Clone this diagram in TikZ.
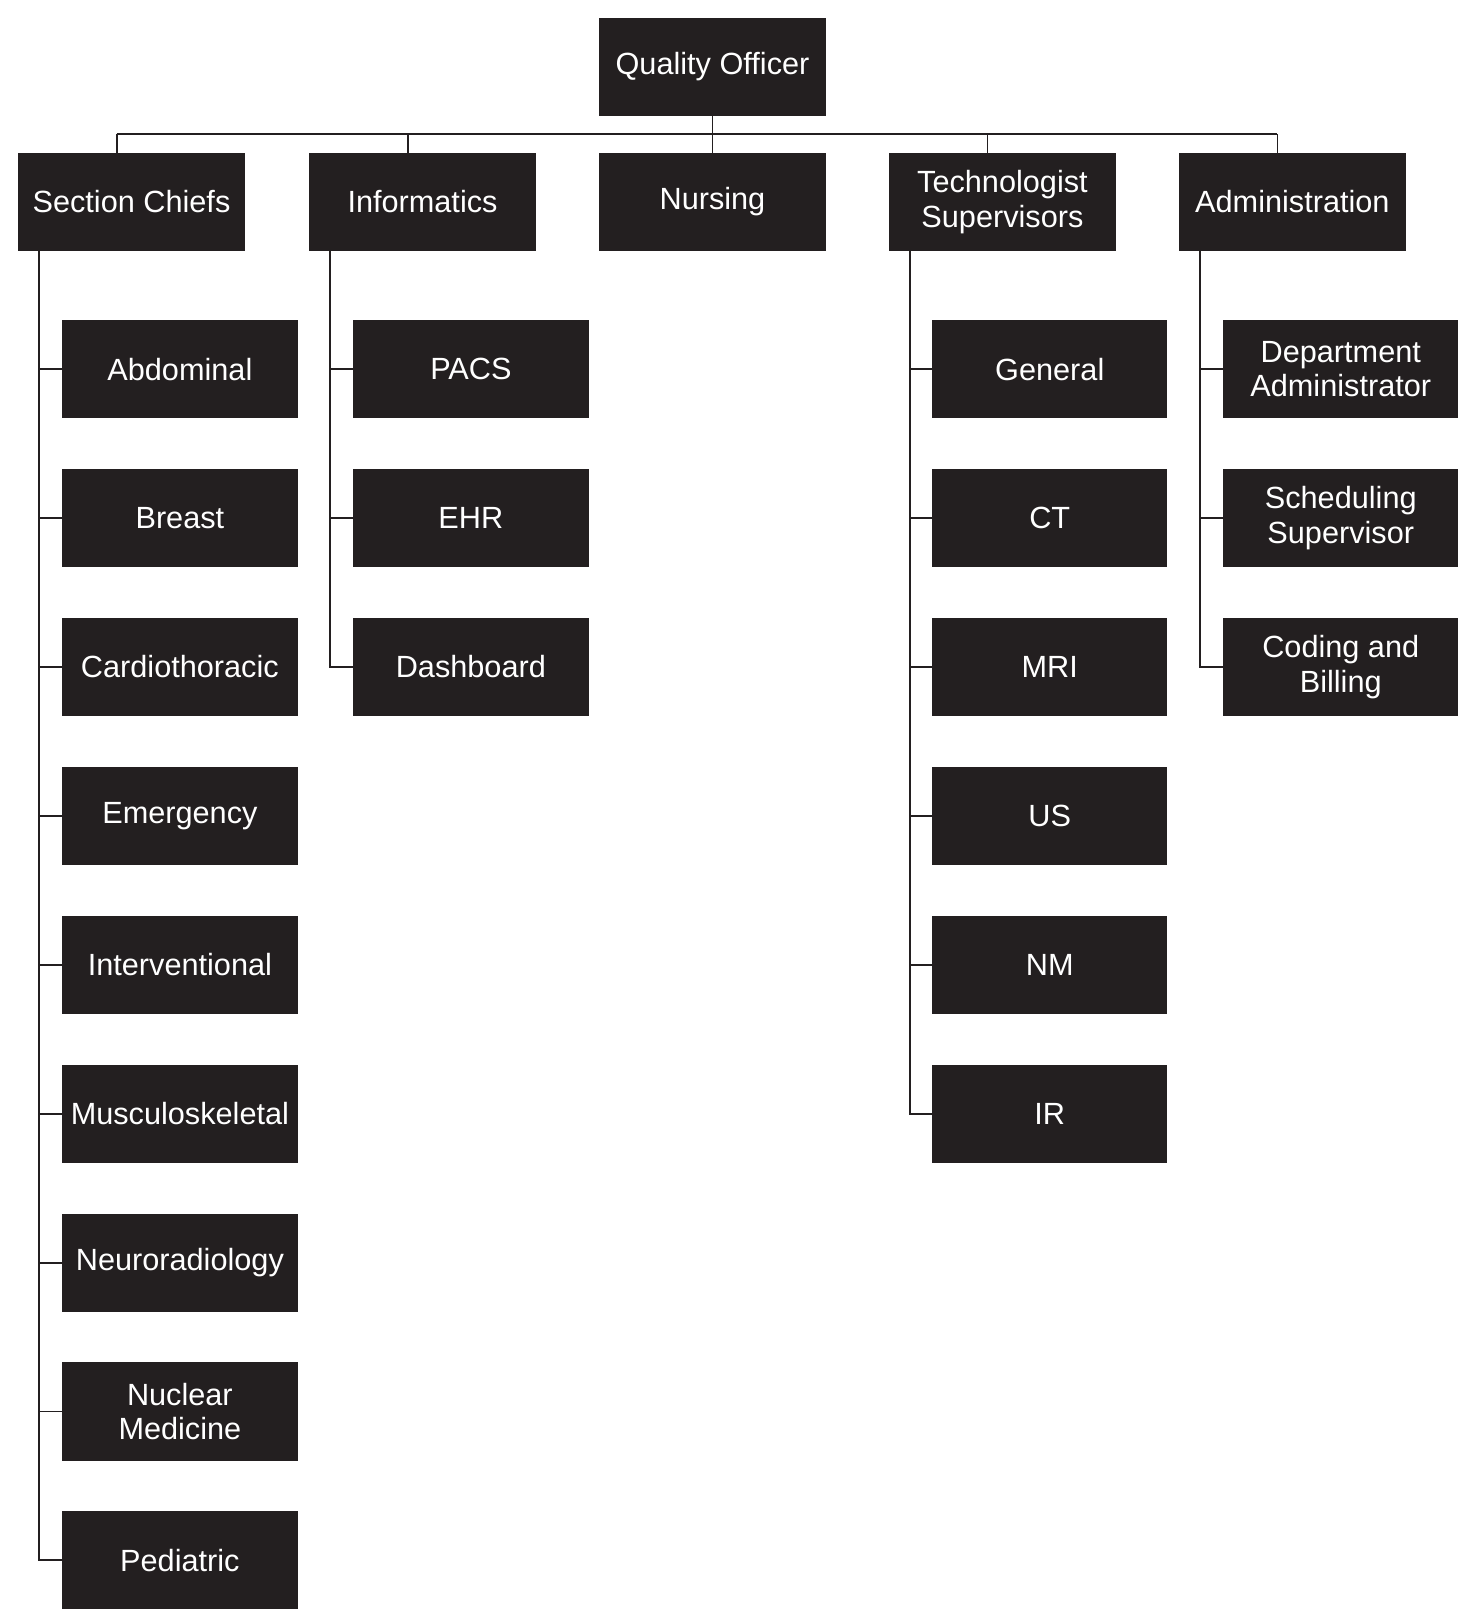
\documentclass[tikz,border=0pt]{standalone}
\usepackage{fontspec}
\setmainfont{Liberation Sans}
\definecolor{boxc}{HTML}{231F20}
\begin{document}
\begin{tikzpicture}[x=0.7737pt,y=-0.7737pt,
  box/.style={fill=boxc,text=white,inner sep=0pt,minimum width=170.5pt,minimum height=73.5pt,anchor=north west,align=center,font=\fontsize{23}{26}\selectfont},
  cbox/.style={box,minimum width=176.5pt},
  ln/.style={draw=boxc,line width=1.4pt}]
\useasboundingbox (0,0) rectangle (1425,1568);
\node[box] (q) at (580,17) {Quality Officer};
\node[box] (sc) at (17,148) {Section Chiefs};
\node[box] (inf) at (299,148) {Informatics};
\node[box] (nur) at (580,148) {Nursing};
\node[box] (tec) at (861,148) {Technologist\\Supervisors};
\node[box] (adm) at (1142,148) {Administration};
% bus
\coordinate (bus) at (690,130);
\draw[ln] (q.south) -- (nur.north);
\draw[ln] (113,130) coordinate (b1) -- (1238,130) coordinate (b5);
\draw[ln] (b1) -- (b1 |- sc.north);
\draw[ln] (395,130) -- (395,148);
\draw[ln] (957,130) -- (957,148);
\draw[ln] (b5) -- (b5 |- adm.north);
% children
\foreach \t [count=\i] in {Abdominal,Breast,Cardiothoracic,Emergency,Interventional,Musculoskeletal,Neuroradiology,{Nuclear\\Medicine},Pediatric}{
  \node[cbox] (s\i) at (60,310+144.3*\i-144.3) {\t};
  \draw[ln] (38,242) |- (s\i.west);
}
\foreach \t [count=\i] in {PACS,EHR,Dashboard}{
  \node[cbox] (i\i) at (342,310+144.3*\i-144.3) {\t};
  \draw[ln] (320,242) |- (i\i.west);
}
\foreach \t [count=\i] in {General,CT,MRI,US,NM,IR}{
  \node[cbox] (t\i) at (903,310+144.3*\i-144.3) {\t};
  \draw[ln] (882,242) |- (t\i.west);
}
\foreach \t [count=\i] in {{Department\\Administrator},{Scheduling\\Supervisor},{Coding and\\Billing}}{
  \node[cbox] (a\i) at (1185,310+144.3*\i-144.3) {\t};
  \draw[ln] (1163,242) |- (a\i.west);
}
\end{tikzpicture}
\end{document}
